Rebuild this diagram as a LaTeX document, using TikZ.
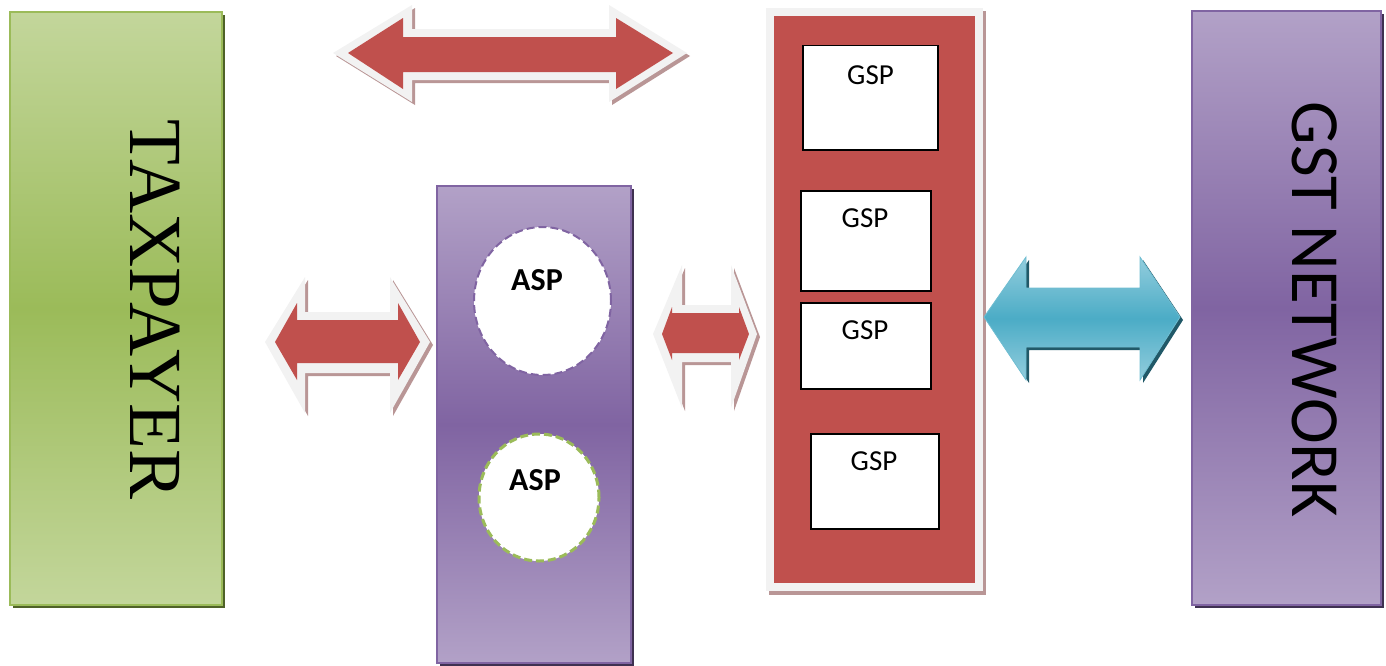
\documentclass[tikz,border=0pt]{standalone}
\usepackage{fontspec}
\setmainfont{Carlito}
\newfontfamily\taxfont{Liberation Serif}
\usetikzlibrary{shapes.geometric}
\usetikzlibrary{positioning}

\definecolor{olivelight}{HTML}{C3D69B}
\definecolor{olivemid}{HTML}{9BBB59}
\definecolor{oliveshadow}{HTML}{4F6228}
\definecolor{lavlight}{HTML}{B2A1C7}
\definecolor{lavmid}{HTML}{8064A2}
\definecolor{lavshadow}{HTML}{3F3151}
\definecolor{brickred}{HTML}{C0504D}
\definecolor{paleedge}{HTML}{F2F2F2}
\definecolor{rosyshadow}{RGB}{185,150,150}
\definecolor{tealmid}{HTML}{4BACC6}
\definecolor{teallight}{HTML}{93CDDD}
\definecolor{tealshadow}{HTML}{215968}

\begin{document}
\begin{tikzpicture} [x=1pt, y=-1pt,
  greenbox/.style={draw=olivemid, line width=1.5pt, top color=olivelight, bottom color=olivelight, middle color=olivemid},
  lavbox/.style={draw=lavmid, line width=1.5pt, top color=lavlight, bottom color=lavlight, middle color=lavmid},
  gspbox/.style={draw=black, line width=1.5pt, fill=white, inner sep=0},
  gsptext/.style={inner sep=0, font=\fontsize{29}{29}\selectfont},
  aspcircle/.style={ellipse, fill=white, line width=2pt, dash pattern=on 8pt off 4pt},
  asptext/.style={inner sep=0, font=\fontsize{32}{32}\selectfont\bfseries},
  redarrow/.style={fill=brickred},
  tealarrow/.style={draw=tealmid!80!white, line width=.8pt, top color=teallight, bottom color=teallight, middle color=tealmid}]
\useasboundingbox (0,0) rectangle (1386,665);

\fill[oliveshadow] (13,15) rectangle (225,608);
\node[greenbox, minimum width=212, minimum height=593] (taxpayer) at (116,308.5) {};
\node[rotate=-90, inner sep=0, font=\taxfont\fontsize{75}{75}\selectfont] (taxpayertext) at (155,309.5) {TAXPAYER};

\fill[lavshadow] (1195,14) rectangle (1384,608);
\node[lavbox, minimum width=189, minimum height=594] (gstnet) at (1286.5,308) {};
\node[rotate=-90, inner sep=0, font=\fontsize{69}{69}\selectfont] (gstnettext) at (1315,309.5) {GST NETWORK};

\fill[lavshadow] (440,189) rectangle (633.5,666);
\node[lavbox, minimum width=194, minimum height=477] (aspcol) at (534,424.5) {};
\node[aspcircle, draw=lavmid, minimum width=137, minimum height=148] (asp1) at (542.5,301) {};
\node[aspcircle, draw=olivemid, line width=3pt, minimum width=120, minimum height=127] (asp2) at (539,497.5) {};
\node[asptext] (asp1text) at (537,280) {ASP};
\node[asptext] (asp2text) at (535,480) {ASP};

\fill[rosyshadow] (769,11) rectangle (986,595);
\node[draw=paleedge, line width=8pt, fill=brickred, minimum width=209, minimum height=575] (gspcol) at (874.5,299.5) {};
\node[gspbox, minimum width=135, minimum height=104.5] (gsp1) at (870.5,97.75) {};
\node[gspbox, minimum width=130, minimum height=100] (gsp2) at (866,241) {};
\node[gspbox, minimum width=130, minimum height=86] (gsp3) at (866,346) {};
\node[gspbox, minimum width=128, minimum height=95] (gsp4) at (875,481.5) {};
\node[gsptext, below=21pt of gsp1.north] (gsp1text) {GSP};
\foreach \n in {2,3,4}
 \node[gsptext, below=18.5pt of gsp\n.north, xshift=-1pt] (gsp\n text) {GSP};

\foreach \d/\c in {3/rosyshadow, 0/paleedge} {
 \fill[\c, shift={(\d,\d)}] (333,53) -- (412,5) -- (412,29) -- (609,29) -- (609,5) -- (687,53) -- (609,102) -- (609,80) -- (412,80) -- (412,102) -- cycle;
 \fill[\c, shift={(\d,\d)}] (265,342) -- (305,277) -- (305,312) -- (390,312) -- (390,277) -- (430,342) -- (390,413) -- (390,373) -- (305,373) -- (305,413) -- cycle;
 \fill[\c, shift={(\d,\d)}] (653,334) -- (682,265) -- (682,305) -- (731,305) -- (731,265) -- (757,334) -- (731,408) -- (731,362) -- (682,362) -- (682,408) -- cycle;
}
\fill[redarrow] (348,53) -- (403,18) -- (403,37) -- (616,37) -- (616,18) -- (673,53) -- (616,89) -- (616,72) -- (403,72) -- (403,89) -- cycle;
\fill[redarrow] (275,342) -- (297,303) -- (297,320) -- (398,320) -- (398,303) -- (420,342) -- (398,380) -- (398,363) -- (297,363) -- (297,380) -- cycle;
\fill[redarrow] (662,334) -- (672,307) -- (672,313) -- (739,313) -- (739,307) -- (749,334) -- (739,360) -- (739,353) -- (672,353) -- (672,360) -- cycle;

\fill[tealshadow, shift={(3,3)}] (984,317) -- (1026,257) -- (1026,288) -- (1140,288) -- (1140,257) -- (1180,317) -- (1140,380) -- (1140,347) -- (1026,347) -- (1026,380) -- cycle;
\draw[tealarrow] (984,317) -- (1026,257) -- (1026,288) -- (1140,288) -- (1140,257) -- (1180,317) -- (1140,380) -- (1140,347) -- (1026,347) -- (1026,380) -- cycle;
\end{tikzpicture}
\end{document}
